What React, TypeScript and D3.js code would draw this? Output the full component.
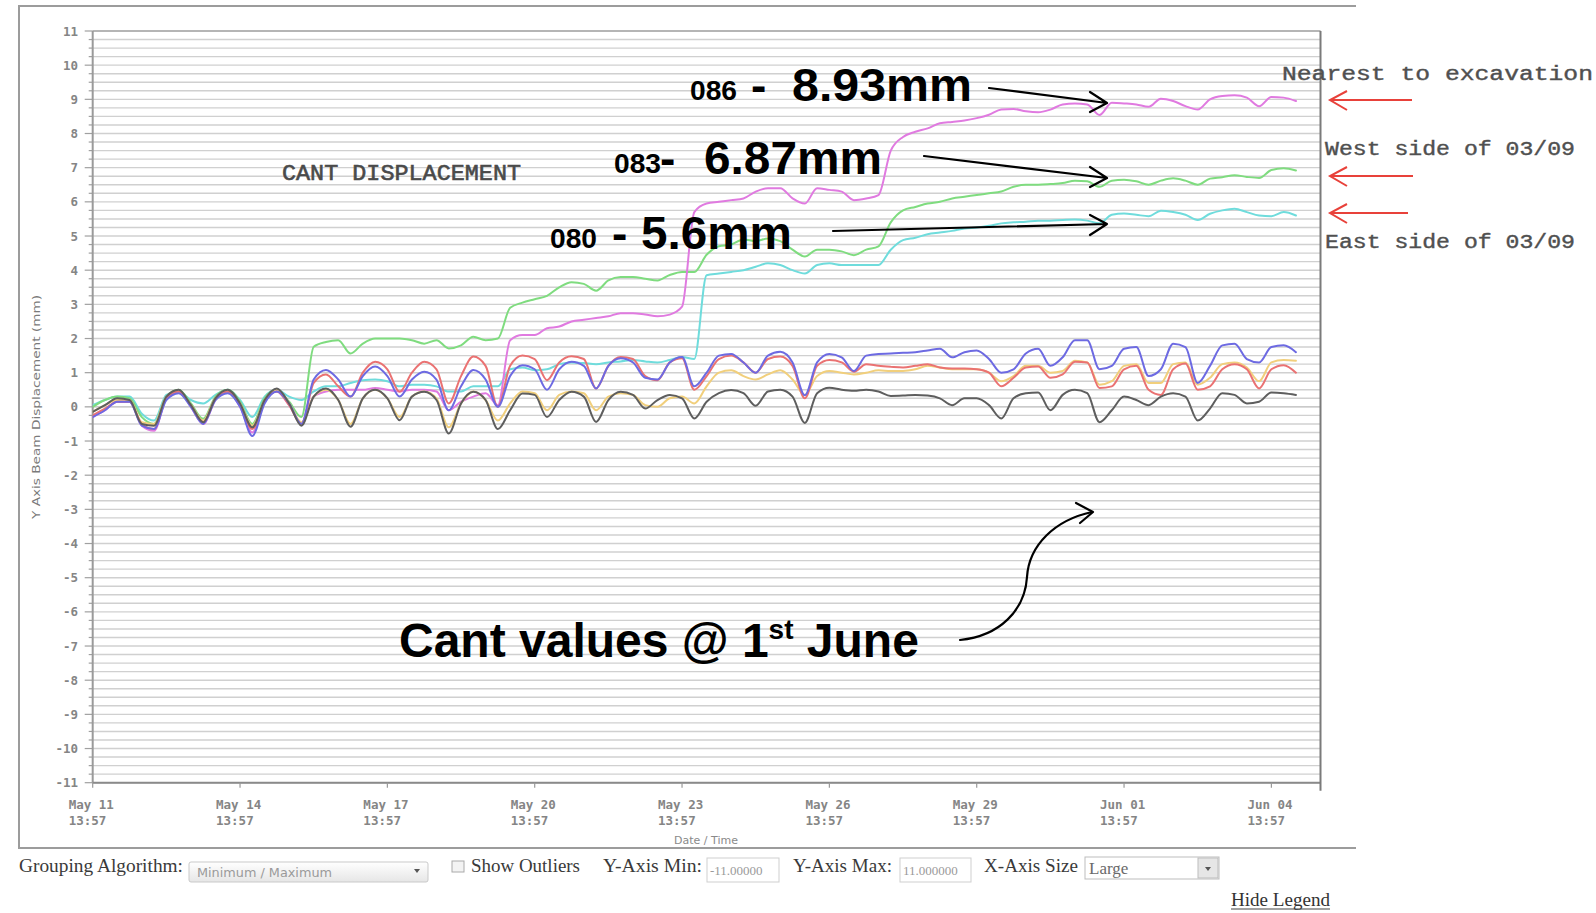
import React from 'react';
import * as d3 from 'd3';

// ---------- data ----------
const START = new Date(2015, 4, 11, 13, 57);
const DAY_MS = 86400000;
const SAMPLE_STEP_DAYS = 0.25;
const DOMAIN_DAYS = 25;

const xTickDays = [0, 3, 6, 9, 12, 15, 18, 21, 24];
const yTickValues = [-11, -10, -9, -8, -7, -6, -5, -4, -3, -2, -1, 0, 1, 2, 3, 4, 5, 6, 7, 8, 9, 10, 11];

const black = [
  -0.15, 0.05, 0.25, 0.2, -0.5, -0.55, 0.3, 0.5, 0.05, -0.45, 0.25, 0.5, 0.1, -0.6, 0.2, 0.54,
  0.1, -0.55, 0.3, 0.54, 0.2, -0.58, 0.25, 0.5, 0.25, -0.39, 0.3, 0.44, 0.2, -0.78, 0.1, 0.44,
  0.2, -0.65, -0.1, 0.39, 0.35, -0.3, 0.2, 0.44, 0.3, -0.44, 0.2, 0.44, 0.35, -0.05, 0.2, 0.35,
  0.25, -0.34, 0.15, 0.4, 0.49, 0.4, 0.03, 0.45, 0.5, 0.3, -0.47, 0.4, 0.56, 0.5, 0.47, 0.5,
  0.45, 0.32, 0.33, 0.35, 0.33, 0.25, 0.05, 0.25, 0.25, 0.05, -0.34, 0.25, 0.4, 0.42, -0.1, 0.35,
  0.5, 0.4, -0.45, -0.1, 0.3, 0.2, 0.05, 0.3, 0.4, 0.3, -0.4, -0.05, 0.4, 0.35, 0.1, 0.15,
  0.42, 0.4, 0.35,
];
const yellow = [
  -0.15, 0.05, 0.2, 0.2, -0.45, -0.5, 0.3, 0.45, 0.05, -0.4, 0.25, 0.45, 0.1, -0.55, 0.2, 0.5,
  0.1, -0.45, 0.3, 0.5, 0.2, -0.5, 0.25, 0.5, 0.25, -0.3, 0.3, 0.45, 0.25, -0.6, 0.1, 0.45,
  0.2, -0.4, 0.1, 0.45, 0.4, -0.1, 0.35, 0.45, 0.4, -0.1, 0.3, 0.4, 0.35, 0.05, 0.0, 0.25,
  0.3, 0.1, 0.6, 1.0, 1.07, 0.9, 0.8, 0.95, 1.07, 0.8, 0.35, 0.9, 1.05, 1.0, 0.95, 1.0,
  1.07, 1.05, 1.05, 1.1, 1.2, 1.15, 1.1, 1.1, 1.1, 1.0, 0.75, 0.9, 1.2, 1.2, 1.0, 1.05,
  1.35, 1.3, 0.65, 0.75, 1.2, 1.25, 0.7, 0.7, 1.25, 1.3, 0.65, 0.85, 1.25, 1.3, 1.15, 0.75,
  1.3, 1.37, 1.35,
];
const blue = [
  -0.3, -0.1, 0.15, 0.15, -0.55, -0.65, 0.2, 0.4, 0.0, -0.5, 0.2, 0.4, 0.0, -0.85, 0.1, 0.45,
  0.1, -0.5, 0.8, 1.08, 0.8, 0.3, 0.9, 1.18, 0.9, 0.3, 0.8, 1.03, 0.8, -0.1, 0.6, 1.08,
  0.8, 0.0, 0.9, 1.22, 1.1, 0.5, 1.1, 1.32, 1.2, 0.54, 1.2, 1.42, 1.3, 0.85, 0.8, 1.3,
  1.46, 0.6, 1.0, 1.5, 1.55, 1.3, 1.0, 1.5, 1.61, 1.3, 0.34, 1.3, 1.55, 1.45, 1.05, 1.5,
  1.55, 1.56, 1.58, 1.6, 1.65, 1.7, 1.45, 1.6, 1.65, 1.4, 1.0, 1.1, 1.56, 1.7, 1.2, 1.45,
  1.95, 1.95, 1.1, 1.2, 1.7, 1.75, 0.9, 1.1, 1.85, 1.75, 0.7, 1.2, 1.8, 1.85, 1.4, 1.3,
  1.75, 1.8, 1.6,
];
const red = [
  -0.25, -0.05, 0.15, 0.15, -0.5, -0.65, 0.25, 0.45, 0.05, -0.45, 0.25, 0.45, 0.05, -0.65, 0.15, 0.45,
  0.05, -0.5, 0.7, 0.95, 0.6, 0.3, 1.0, 1.32, 1.1, 0.44, 1.0, 1.32, 1.1, 0.1, 0.9, 1.47,
  1.2, 0.0, 1.2, 1.5, 1.4, 0.78, 1.3, 1.48, 1.4, 0.54, 1.2, 1.46, 1.4, 0.9, 0.78, 1.3,
  1.42, 0.5, 0.9, 1.4, 1.5, 1.3, 1.0, 1.4, 1.47, 1.2, 0.25, 1.2, 1.37, 1.3, 1.03, 1.25,
  1.2, 1.17, 1.15, 1.2, 1.25, 1.15, 1.12, 1.12, 1.1, 1.0, 0.6, 0.85, 1.15, 1.18, 0.85, 0.95,
  1.32, 1.3, 0.55, 0.6, 1.1, 1.2, 0.5, 0.35, 1.1, 1.27, 0.5, 0.6, 1.1, 1.25, 1.1, 0.54,
  1.1, 1.22, 1.0,
];
const cyan080 = [
  0.05, 0.2, 0.3, 0.3, -0.2, -0.4, 0.35, 0.45, 0.2, 0.1, 0.35, 0.5, 0.2, -0.3, 0.3, 0.5,
  0.3, 0.2, 0.45, 0.6, 0.6, 0.7, 0.78, 0.8, 0.75, 0.6, 0.65, 0.65, 0.6, 0.45, 0.45, 0.6,
  0.6, 0.6, 1.1, 1.15, 1.07, 1.1, 1.25, 1.3, 1.28, 1.25, 1.3, 1.33, 1.37, 1.33, 1.3, 1.37,
  1.46, 1.4, 3.85, 3.9, 3.95, 4.0, 4.1, 4.2, 4.15, 4.0, 3.9, 4.15, 4.2, 4.15, 4.15, 4.15,
  4.15, 4.6, 4.88, 4.95, 5.05, 5.1, 5.15, 5.22, 5.25, 5.3, 5.37, 5.4, 5.42, 5.45, 5.45, 5.47,
  5.48, 5.45, 5.37, 5.62, 5.66, 5.62, 5.58, 5.74, 5.7, 5.62, 5.47, 5.65, 5.75, 5.8, 5.7, 5.6,
  5.58, 5.7, 5.6,
];
const green083 = [
  0.0, 0.2, 0.3, 0.25, -0.3, -0.5, 0.3, 0.5, 0.1, -0.35, 0.3, 0.5, 0.15, -0.5, 0.25, 0.5,
  0.15, -0.3, 1.76, 1.9, 1.95, 1.56, 1.85, 2.0, 2.0, 2.0, 1.95, 1.85, 1.95, 1.71, 1.8, 2.05,
  1.95, 2.0, 2.9, 3.05, 3.15, 3.25, 3.5, 3.65, 3.6, 3.4, 3.7, 3.8, 3.8, 3.75, 3.7, 3.86,
  3.95, 3.95, 4.45, 4.7, 4.75, 4.9, 4.85, 4.93, 4.85, 4.6, 4.4, 4.6, 4.6, 4.55, 4.44, 4.6,
  4.7, 5.4, 5.75, 5.85, 5.95, 6.0, 6.1, 6.15, 6.2, 6.25, 6.3, 6.44, 6.5, 6.5, 6.52, 6.55,
  6.62, 6.6, 6.44, 6.62, 6.65, 6.6, 6.5, 6.62, 6.69, 6.62, 6.5, 6.68, 6.72, 6.78, 6.73, 6.7,
  6.93, 6.98, 6.92,
];
const pink086 = [
  -0.3, -0.1, 0.15, 0.15, -0.55, -0.7, 0.25, 0.45, 0.0, -0.5, 0.2, 0.45, 0.0, -0.75, 0.15, 0.45,
  0.05, -0.5, 0.3, 0.45, 0.5, 0.5, 0.5, 0.55, 0.5, 0.45, 0.5, 0.5, 0.45, -0.1, 0.15, 0.3,
  0.4, 0.05, 1.95, 2.1, 2.1, 2.3, 2.35, 2.5, 2.55, 2.6, 2.65, 2.74, 2.74, 2.7, 2.65, 2.7,
  2.93, 5.7, 5.95, 6.0, 6.05, 6.1, 6.3, 6.4, 6.4, 6.1, 5.95, 6.4, 6.35, 6.3, 6.05, 6.1,
  6.2, 7.5, 7.9, 8.05, 8.15, 8.3, 8.34, 8.38, 8.45, 8.55, 8.7, 8.72, 8.65, 8.62, 8.7, 8.85,
  8.88, 8.85, 8.54, 8.9, 8.88, 8.85, 8.78, 9.02, 8.95, 8.8, 8.7, 9.0, 9.1, 9.12, 9.05, 8.8,
  9.07, 9.05, 8.95,
];

const seriesValues = [cyan080, green083, pink086, yellow, red, blue, black];
const seriesColors = ['#6fdcdc', '#7fdc7f', '#e07ae0', '#f1cf7c', '#ea7272', '#6d6ae2', '#5e5e5e'];

const annotationLabels = [
  { id: '086', dash: '-', value: '8.93mm' },
  { id: '083', dash: '-', value: '6.87mm' },
  { id: '080', dash: '-', value: '5.6mm' },
];
const sideNotes = ['Nearest to excavation', 'West side of 03/09', 'East side of 03/09'];

// ---------- component ----------
export default function App() {
  const W = 1596;
  const H = 913;
  const plot = { left: 92.7, right: 1320.5, top: 31, bottom: 782.7 };

  const endDate = new Date(START.getTime() + DOMAIN_DAYS * DAY_MS);
  const x = d3.scaleTime().domain([START, endDate]).range([plot.left, plot.right]);
  const y = d3.scaleLinear().domain([-11, 11]).range([plot.bottom, plot.top]);

  const dateAt = (i: number) => new Date(START.getTime() + i * SAMPLE_STEP_DAYS * DAY_MS);
  const line = d3
    .line<number>()
    .x((_, i) => x(dateAt(i)))
    .y((v) => y(v))
    .curve(d3.curveMonotoneX);

  const gridVals = d3.range(-11, 11.001, 0.25);
  const fmtDay = d3.timeFormat('%b %d');
  const fmtTime = d3.timeFormat('%H:%M');
  const xTicks = xTickDays.map((d) => new Date(START.getTime() + d * DAY_MS));

  const mono = 'DejaVu Sans Mono, monospace';
  const courier = 'Liberation Mono, Courier New, monospace';
  const serif = 'Liberation Serif, Times New Roman, serif';
  const arial = 'Liberation Sans, Arial, sans-serif';

  return (
    <svg
      width={W}
      height={H}
      style={{ position: 'absolute', left: 0, top: 0, background: '#fff' }}
      xmlns="http://www.w3.org/2000/svg"
    >
      <defs>
        <linearGradient id="selGrad" x1="0" y1="0" x2="0" y2="1">
          <stop offset="0" stopColor="#ffffff" />
          <stop offset="1" stopColor="#e6e6e6" />
        </linearGradient>
        <clipPath id="plotClip">
          <rect x={plot.left} y={plot.top} width={plot.right - plot.left} height={plot.bottom - plot.top} />
        </clipPath>
      </defs>
      <rect x={0} y={0} width={W} height={H} fill="#fff" />

      {/* outer frame */}
      <path d="M1356,6 H19 V848 H1356" fill="none" stroke="#9c9c9c" strokeWidth={2} />

      {/* grid lines */}
      {gridVals.map((v, i) => (
        <line
          key={'g' + i}
          x1={plot.left}
          x2={plot.right}
          y1={y(v)}
          y2={y(v)}
          stroke={Math.abs(v) < 1e-9 ? '#b8b8b8' : '#d0d0d0'}
          strokeWidth={1.4}
        />
      ))}

      {/* y minor/major ticks */}
      {gridVals.map((v, i) => (
        <line
          key={'yt' + i}
          x1={Number.isInteger(v) ? plot.left - 8 : plot.left - 4}
          x2={plot.left}
          y1={y(v)}
          y2={y(v)}
          stroke="#a0a0a0"
          strokeWidth={1.2}
        />
      ))}

      {/* plot border */}
      <line x1={plot.left} x2={plot.right} y1={plot.top} y2={plot.top} stroke="#a8a8a8" strokeWidth={1.5} />
      <line x1={plot.left} x2={plot.left} y1={plot.top} y2={plot.bottom} stroke="#9a9a9a" strokeWidth={2} />
      <line x1={plot.left} x2={plot.right} y1={plot.bottom} y2={plot.bottom} stroke="#8a8a8a" strokeWidth={2} />
      <line x1={plot.right} x2={plot.right} y1={plot.top} y2={plot.bottom + 8} stroke="#7a7a7a" strokeWidth={2} />

      {/* y tick labels */}
      {yTickValues.map((v) => (
        <text
          key={'yl' + v}
          x={78}
          y={y(v) + 4.5}
          textAnchor="end"
          fontFamily={mono}
          fontSize={12.5}
          fontWeight="bold"
          fill="#858585"
        >
          {v}
        </text>
      ))}

      {/* x ticks + labels */}
      {xTicks.map((d, i) => (
        <g key={'xt' + i}>
          <line x1={x(d)} x2={x(d)} y1={plot.bottom} y2={plot.bottom + 5} stroke="#999" strokeWidth={1.2} />
          <text x={x(d) - 24} y={809} fontFamily={mono} fontSize={12.5} fontWeight="bold" fill="#858585">
            {fmtDay(d)}
          </text>
          <text x={x(d) - 24} y={825} fontFamily={mono} fontSize={12.5} fontWeight="bold" fill="#858585">
            {fmtTime(d)}
          </text>
        </g>
      ))}

      {/* axis titles */}
      <text x={706} y={844} textAnchor="middle" fontFamily="DejaVu Sans, sans-serif" fontSize={11} fill="#8a8a8a">
        Date / Time
      </text>
      <text
        transform="translate(40,407) rotate(-90)"
        textAnchor="middle"
        fontFamily="DejaVu Sans, sans-serif"
        fontSize={11}
        fill="#7a7a7a"
        textLength={224}
        lengthAdjust="spacingAndGlyphs"
      >
        Y Axis Beam Displacement (mm)
      </text>

      {/* series */}
      <g clipPath="url(#plotClip)">
        {seriesValues.map((vals, si) => (
          <path
            key={'s' + si}
            d={line(vals) || ''}
            fill="none"
            stroke={seriesColors[si]}
            strokeWidth={2}
            strokeLinejoin="round"
            strokeLinecap="round"
          />
        ))}
      </g>

      {/* chart title */}
      <text
        x={282}
        y={180}
        fontFamily={courier}
        fontSize={22}
        fill="#4a4a4a"
        stroke="#4a4a4a"
        strokeWidth={0.6}
        textLength={239}
        lengthAdjust="spacingAndGlyphs"
      >
        CANT DISPLACEMENT
      </text>

      {/* right side notes */}
      <g fontFamily={courier} fontSize={20} fill="#505050" stroke="#505050" strokeWidth={0.4}>
        <text x={1282} y={80} textLength={311} lengthAdjust="spacingAndGlyphs">{sideNotes[0]}</text>
        <text x={1325} y={155} textLength={250} lengthAdjust="spacingAndGlyphs">{sideNotes[1]}</text>
        <text x={1325} y={248} textLength={250} lengthAdjust="spacingAndGlyphs">{sideNotes[2]}</text>
      </g>

      {/* red arrows */}
      {[
        [100, 1412],
        [176, 1413],
        [213, 1408],
      ].map(([ay, ax2], i) => (
        <path
          key={'ra' + i}
          d={`M${ax2},${ay} H1330 M1347,${ay - 9} L1330,${ay} L1347,${ay + 10}`}
          fill="none"
          stroke="#e8413a"
          strokeWidth={2}
        />
      ))}

      {/* big annotations */}
      <g fontFamily={arial} fontWeight="bold" fill="#000">
        <text x={690} y={100} fontSize={28} textLength={47} lengthAdjust="spacingAndGlyphs">{annotationLabels[0].id}</text>
        <text x={751} y={101} fontSize={46}>{annotationLabels[0].dash}</text>
        <text x={792} y={101} fontSize={47} textLength={180} lengthAdjust="spacingAndGlyphs">{annotationLabels[0].value}</text>

        <text x={614} y={173} fontSize={28} textLength={47} lengthAdjust="spacingAndGlyphs">{annotationLabels[1].id}</text>
        <text x={660} y={174} fontSize={46}>{annotationLabels[1].dash}</text>
        <text x={704} y={174} fontSize={47} textLength={178} lengthAdjust="spacingAndGlyphs">{annotationLabels[1].value}</text>

        <text x={550} y={248} fontSize={28} textLength={47} lengthAdjust="spacingAndGlyphs">{annotationLabels[2].id}</text>
        <text x={612} y={249} fontSize={46}>{annotationLabels[2].dash}</text>
        <text x={641} y={249} fontSize={47} textLength={151} lengthAdjust="spacingAndGlyphs">{annotationLabels[2].value}</text>

        <text x={399} y={657} fontSize={48}>
          Cant values @ 1
          <tspan fontSize={28} dy={-18}>st</tspan>
          <tspan fontSize={48} dy={18}> June</tspan>
        </text>
      </g>

      {/* black arrows */}
      <g fill="none" stroke="#000" strokeWidth={2.2} strokeLinecap="round" strokeLinejoin="round">
        <path d="M989,88 L1107,103 M1090,92 L1107,103 L1090,112" />
        <path d="M924,156 L1107,178 M1090,167 L1107,178 L1090,187" />
        <path d="M833,231 L1107,224 M1090,215 L1107,224 L1090,235" />
        <path d="M960,640 C1000,636 1025,610 1027,577 C1029,545 1055,520 1092,512" />
        <path d="M1076,503 L1093,512 L1080,523" />
      </g>

      {/* controls below */}
      <g fontFamily={serif} fontSize={19} fill="#3a3a3a">
        <text x={19} y={872} textLength={164} lengthAdjust="spacingAndGlyphs">Grouping Algorithm:</text>
        <rect x={189} y={862} width={239} height={20} rx={2} fill="url(#selGrad)" stroke="#c9c9c9" />
        <text x={197} y={877} fontFamily="DejaVu Sans, sans-serif" fontSize={12} fill="#9a9a9a" textLength={135} lengthAdjust="spacingAndGlyphs">
          Minimum / Maximum
        </text>
        <path d="M414,869 L420,869 L417,873 Z" fill="#555" stroke="none" />

        <rect x={452} y={861} width={12} height={11} fill="#f3f3f3" stroke="#aaa" />
        <text x={471} y={872} textLength={109} lengthAdjust="spacingAndGlyphs">Show Outliers</text>

        <text x={603} y={872} textLength={99} lengthAdjust="spacingAndGlyphs">Y-Axis Min:</text>
        <rect x={707} y={858} width={72} height={24} fill="#fff" stroke="#cfcfcf" />
        <svg x={708} y={858} width={70} height={24} overflow="hidden">
          <text x={2} y={17} fontSize={13} fill="#9a9a9a">-11.00000</text>
        </svg>

        <text x={793} y={872} textLength={99} lengthAdjust="spacingAndGlyphs">Y-Axis Max:</text>
        <rect x={900} y={858} width={71} height={24} fill="#fff" stroke="#cfcfcf" />
        <svg x={901} y={858} width={69} height={24} overflow="hidden">
          <text x={2} y={17} fontSize={13} fill="#9a9a9a">11.000000</text>
        </svg>

        <text x={984} y={872} textLength={94} lengthAdjust="spacingAndGlyphs">X-Axis Size</text>
        <rect x={1085} y={857} width={134} height={22} fill="#fff" stroke="#bdbdbd" />
        <text x={1089} y={874} fontSize={17} fill="#6a6a6a">Large</text>
        <rect x={1198} y={858} width={20} height={20} fill="#e6e6e6" stroke="#bdbdbd" />
        <path d="M1205,867 L1211,867 L1208,871 Z" fill="#555" stroke="none" />

        <text x={1231} y={906} textLength={99} lengthAdjust="spacingAndGlyphs" fill="#333">Hide Legend</text>
        <line x1={1231} x2={1330} y1={909} y2={909} stroke="#444" strokeWidth={1.2} />
      </g>
    </svg>
  );
}
